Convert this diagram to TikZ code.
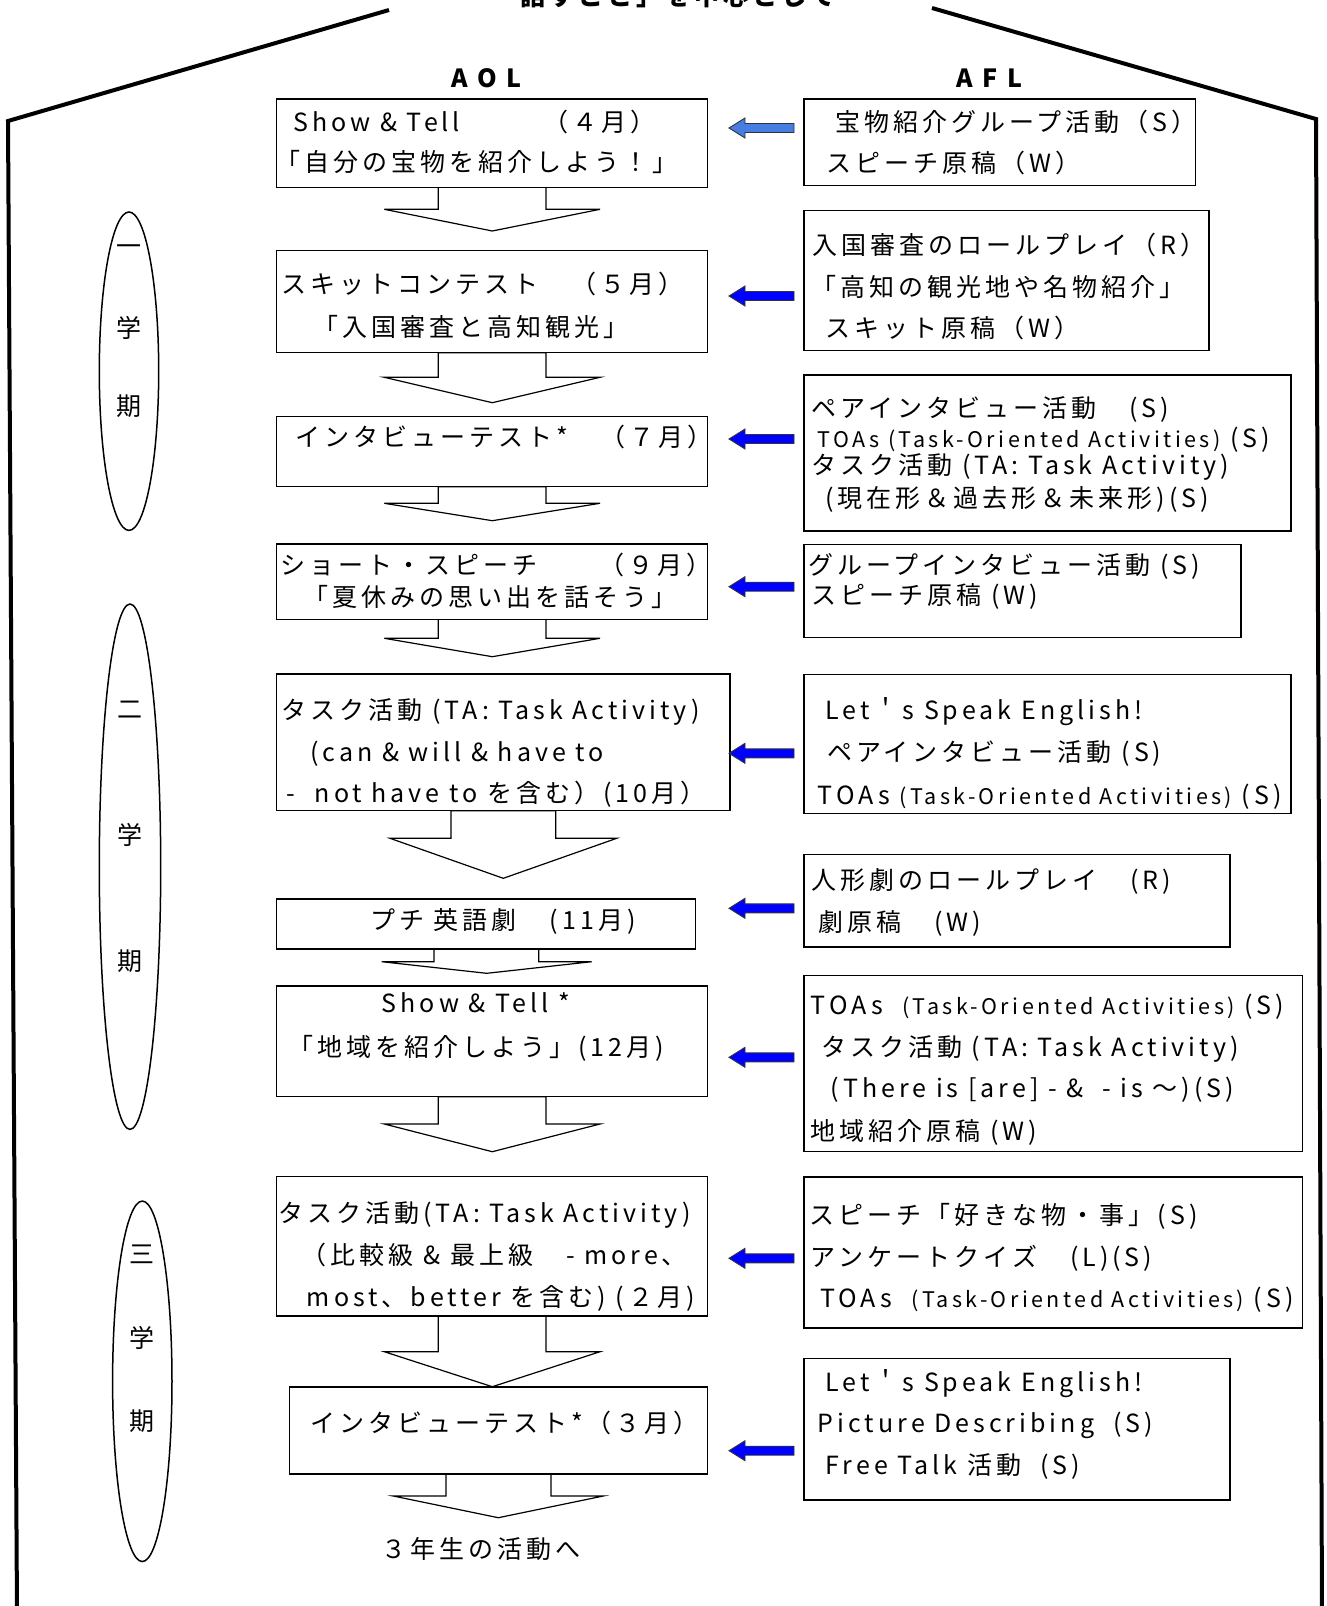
\documentclass[tikz,border=0pt]{standalone}
\usepackage{fontspec}
\setmainfont{Noto Sans CJK JP}[LetterSpace=16]
\usetikzlibrary{shapes.geometric}
\definecolor{firstblue}{RGB}{70,125,225}
\newcommand\tfont{\fontsize{25}{30}\selectfont}
\newcommand\sfnt{\fontsize{21.5}{26}\selectfont}
\newcommand\DownArr[8]{\draw[darr] (#2,0 |- #1.south) -- (#2,#4) -- (#5,#4) -- (#7,#8) -- (#6,#4) -- (#3,#4) -- (#3,0 |- #1.south) -- cycle;}
\newcommand\BArr[2]{\draw[barr, fill=#2, shift={(0,#1)}] (729,0) -- (745,-10) -- (745,-4.5) -- (794,-4.5) -- (794,4.5) -- (745,4.5) -- (745,10) -- cycle;}
\tikzset{
  box/.style={draw, line width=1.5pt, rectangle, inner sep=0pt, outer sep=0pt, fill=white},
  tx/.style={font=\tfont, anchor=west, inner sep=0pt, text height=19pt, text depth=0pt},
  ctx/.style={font=\tfont, anchor=center, inner sep=0pt, text height=19pt, text depth=0pt},
  ell/.style={draw, line width=1.5pt, ellipse, inner sep=0pt},
  darr/.style={draw, line width=1.2pt, fill=white, line join=miter},
  barr/.style={draw=black!80, line width=0.9pt},
  outer/.style={draw, line width=4pt, line join=miter}
}
\begin{document}
\begin{tikzpicture}[x=1pt,y=-1pt]
\useasboundingbox (0,0) rectangle (1327,1606);
\clip (0,0) rectangle (1327,1606);
\fill[white] (0,0) rectangle (1327,1606);
% outer frame
\draw[outer] (389,10) -- (8,121) -- (17,1612);
\draw[outer] (932,8) -- (1316,119) -- (1322,1612);
\node[ctx, font=\tfont\bfseries] (title) at (678,-4) {話すこと」を中心として};
\node[ctx, font=\tfont\bfseries] (hA) at (486.4,78) {A O L};
\node[ctx, font=\tfont\bfseries] (hF) at (989,78) {A F L};
% ellipses
\node[ell, minimum width=59.4pt, minimum height=318.4pt] (E1) at (129,371.2) {};
\node[ell, minimum width=61.4pt, minimum height=525.4pt] (E2) at (130,866.7) {};
\node[ell, minimum width=59.4pt, minimum height=360.5pt] (E3) at (142.3,1381.3) {};
\node[ctx] (e1a) at (129,245.8) {一};
\node[ctx] (e1b) at (129,327.7) {学};
\node[ctx] (e1c) at (129,405.5) {期};
\node[ctx] (e2a) at (130,708.6) {二};
\node[ctx] (e2b) at (130,834.5) {学};
\node[ctx] (e2c) at (130,960.5) {期};
\node[ctx] (e3a) at (142.3,1254.4) {三};
\node[ctx] (e3b) at (142.3,1338.3) {学};
\node[ctx] (e3c) at (142.3,1421.3) {期};
% AOL box bottoms
\coordinate (A1s) at (492,187.3);
\coordinate (A2s) at (492,352.7);
\coordinate (A3s) at (492,486.7);
\coordinate (A4s) at (492,619.3);
\coordinate (A5s) at (503,810.7);
\coordinate (A6s) at (486,949);
\coordinate (A7s) at (492,1096.7);
\coordinate (A8s) at (492,1316);
\coordinate (A9s) at (498,1474);
% down arrows (drawn first; box borders lie on top)
\DownArr{A1s}{438.3}{546}{209.3}{384.3}{600}{492.3}{231}
\DownArr{A2s}{438.3}{546}{377.3}{384.3}{600}{492.3}{402.7}
\DownArr{A3s}{438.3}{546}{503.3}{384.3}{600}{492.3}{520.7}
\DownArr{A4s}{438.3}{546}{638.3}{384.3}{600}{492.3}{656.7}
\DownArr{A5s}{451}{555.7}{838.3}{390}{616.7}{503.3}{878.3}
\DownArr{A6s}{434}{538.7}{961.7}{381.7}{591.7}{486.7}{973.3}
\DownArr{A7s}{438.3}{546}{1124}{384.3}{600}{492.3}{1151.7}
\DownArr{A8s}{438.3}{546}{1351.7}{384.3}{600}{492.3}{1386.7}
\DownArr{A9s}{446}{551}{1496}{393.3}{603.3}{498.3}{1517.7}
% AOL boxes
\node[box, minimum width=430.6pt, minimum height=88.3pt] (A1) at (492,143.15) {};
\node[box, minimum width=430.6pt, minimum height=102pt] (A2) at (492,301.7) {};
\node[box, minimum width=430.6pt, minimum height=70pt] (A3) at (492,451.7) {};
\node[box, minimum width=430.6pt, minimum height=75.3pt] (A4) at (492,581.65) {};
\node[box, minimum width=453.3pt, minimum height=136.7pt] (A5) at (503.35,742.35) {};
\node[box, minimum width=419pt, minimum height=50pt] (A6) at (486.2,924) {};
\node[box, minimum width=430.6pt, minimum height=110.7pt] (A7) at (492,1041.35) {};
\node[box, minimum width=430.6pt, minimum height=139.3pt] (A8) at (492,1246.35) {};
\node[box, minimum width=418pt, minimum height=87pt] (A9) at (498.3,1430.5) {};
% AOL texts
\node[tx] (a1a) at (293.3,121.7) {\makebox[250pt][l]{Show \& Tell}（４月）};
\node[tx] (a1b) at (275,161.7) {「自分の宝物を紹介しよう！」};
\node[tx] (a2a) at (281.7,284) {スキットコンテスト　（５月）};
\node[tx] (a2b) at (313.3,327.3) {「入国審査と高知観光」};
\node[tx] (a3a) at (295,437.3) {インタビューテスト*　（７月）};
\node[tx] (a4a) at (280,565) {ショート・スピーチ　　（９月）};
\node[tx] (a4b) at (303.3,597.3) {「夏休みの思い出を話そう」};
\node[tx] (a5a) at (281.7,710) {タスク活動 (TA: Task Activity)};
\node[tx] (a5b) at (310,751.7) {(can \& will \& have to};
\node[tx] (a5c) at (286.7,793.3) {-\ \ not have to を含む）(10月）};
\node[tx] (a6a) at (370,920) {プチ 英語劇　(11月)};
\node[tx] (a7a) at (381.7,1003.3) {Show \& Tell *};
\node[tx] (a7b) at (288.3,1046.7) {「地域を紹介しよう」(12月)};
\node[tx] (a8a) at (278.3,1213.3) {タスク活動(TA: Task Activity)};
\node[tx] (a8b) at (301.7,1255) {（比較級 \& 最上級　- more、};
\node[tx] (a8c) at (306.7,1296.5) {most、better を含む) (２月)};
\node[tx] (a9a) at (310,1423.3) {インタビューテスト*（３月）};
\node[tx] (nxt) at (381.7,1549.3) {３年生の活動へ};
% AFL boxes
\node[box, minimum width=391.7pt, minimum height=86.3pt] (F1) at (999.65,142.15) {};
\node[box, minimum width=405.2pt, minimum height=139.8pt] (F2) at (1006.4,280.6) {};
\node[box, minimum width=487.4pt, minimum height=156pt] (F3) at (1047.5,453) {};
\node[box, minimum width=437.2pt, minimum height=93pt] (F4) at (1022.4,591) {};
\node[box, minimum width=487.4pt, minimum height=139pt] (F5) at (1047.5,744) {};
\node[box, minimum width=426.2pt, minimum height=92.7pt] (F6) at (1016.9,900.65) {};
\node[box, minimum width=498.6pt, minimum height=176pt] (F7) at (1053.1,1063.5) {};
\node[box, minimum width=498.6pt, minimum height=151pt] (F8) at (1053.1,1252.5) {};
\node[box, minimum width=426.2pt, minimum height=141.5pt] (F9) at (1016.9,1429.25) {};
% AFL texts
\node[tx] (f1a) at (835,122) {宝物紹介グループ活動（S）};
\node[tx] (f1b) at (826,163) {スピーチ原稿（W）};
\node[tx] (f2a) at (812,245) {入国審査のロールプレイ（R）};
\node[tx] (f2b) at (811.3,286.7) {「高知の観光地や名物紹介」};
\node[tx] (f2c) at (825.3,328.3) {スキット原稿（W）};
\node[tx] (f3a) at (811.3,408.3) {ペアインタビュー活動　(S)};
\node[tx] (f3b) at (817.6,438.3) {{\sfnt TOAs (Task-Oriented Activities)} (S)};
\node[tx] (f3c) at (811.3,465) {タスク活動 (TA: Task Activity)};
\node[tx] (f3d) at (825,498.3) {(現在形＆過去形＆未来形)(S)};
\node[tx] (f4a) at (807.9,565) {グループインタビュー活動 (S)};
\node[tx] (f4b) at (811.3,595) {スピーチ原稿 (W)};
\node[tx] (f5a) at (825.3,710) {Let＇s Speak English!};
\node[tx] (f5b) at (827,751.7) {ペアインタビュー活動 (S)};
\node[tx] (f5c) at (817.6,795) {TOAs {\sfnt (Task-Oriented Activities)} (S)};
\node[tx] (f6a) at (811.3,880) {人形劇のロールプレイ　(R)};
\node[tx] (f6b) at (818.3,921.7) {劇原稿　(W)};
\node[tx] (f7a) at (810.6,1005) {TOAs\ \ {\sfnt (Task-Oriented Activities)} (S)};
\node[tx] (f7b) at (821,1047.3) {タスク活動 (TA: Task Activity)};
\node[tx] (f7c) at (830.5,1088.3) {(There is [are] - \&\ \ - is ～)(S)};
\node[tx] (f7d) at (810.6,1130.7) {地域紹介原稿 (W)};
\node[tx] (f8a) at (809.6,1215) {スピーチ「好きな物・事」(S)};
\node[tx] (f8b) at (810.6,1257.3) {アンケートクイズ　(L)(S)};
\node[tx] (f8c) at (820,1298.3) {TOAs\ \ {\sfnt (Task-Oriented Activities)} (S)};
\node[tx] (f9a) at (825.3,1381.7) {Let＇s Speak English!};
\node[tx] (f9b) at (817.6,1423.3) {Picture Describing\ \ (S)};
\node[tx] (f9c) at (825.3,1465) {Free Talk 活動\ \ (S)};
% blue arrows (AFL -> AOL)
\BArr{128}{firstblue}
\BArr{296}{blue}
\BArr{439}{blue}
\BArr{586.7}{blue}
\BArr{753.3}{blue}
\BArr{908.3}{blue}
\BArr{1057.3}{blue}
\BArr{1258.3}{blue}
\BArr{1450.7}{blue}
\end{tikzpicture}
\end{document}
